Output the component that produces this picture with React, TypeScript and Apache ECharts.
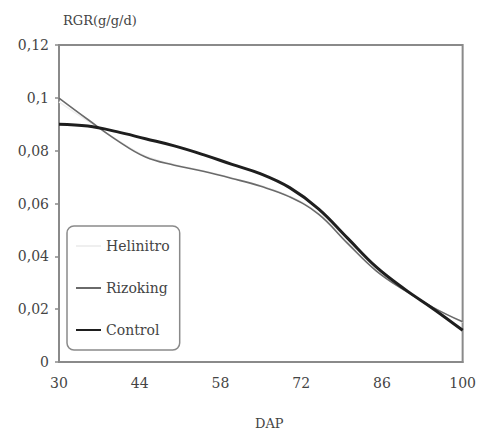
import React, { useEffect, useRef } from "react";
import * as echarts from "echarts";

const days = [30, 35, 40, 45, 50, 55, 60, 65, 70, 75, 80, 85, 90, 95, 100];
const helinitro = [0.0985, 0.0912, 0.0842, 0.0780, 0.0748, 0.0724, 0.0697, 0.0668, 0.0628, 0.0565, 0.0455, 0.0350, 0.0272, 0.0206, 0.0150];
const rizoking = [0.0999, 0.0918, 0.0840, 0.0776, 0.0745, 0.0722, 0.0695, 0.0665, 0.0625, 0.0560, 0.0450, 0.0345, 0.0270, 0.0205, 0.0152];
const control = [0.0900, 0.0893, 0.0872, 0.0845, 0.0818, 0.0785, 0.0748, 0.0712, 0.0660, 0.0580, 0.0470, 0.0360, 0.0275, 0.0200, 0.0120];
const xTicks = [30, 44, 58, 72, 86, 100];

const FONT = "'DejaVu Serif', 'Liberation Serif', serif";

export default function App() {
  const ref = useRef<HTMLDivElement>(null);
  useEffect(() => {
    if (!ref.current) return;
    const chart = echarts.init(ref.current, null, { renderer: "svg" });
    const pair = (ys: number[]) => days.map((d, i) => [d, ys[i]]);
    chart.setOption({
      animation: false,
      backgroundColor: "#fff",
      grid: {
        left: 59,
        right: 16,
        top: 45,
        bottom: 70,
        show: true,
        borderColor: "#8a8a8a",
        borderWidth: 2,
        backgroundColor: "transparent",
      },
      title: [
        {
          text: "RGR(g/g/d)",
          left: 58,
          top: 9,
          textStyle: { fontFamily: FONT, fontSize: 13, fontWeight: "normal", color: "#444" },
        },
        {
          text: "DAP",
          left: 250,
          top: 412,
          textStyle: { fontFamily: FONT, fontSize: 13, fontWeight: "normal", color: "#444" },
        },
      ],
      legend: {
        orient: "vertical",
        left: 67,
        top: 226,
        itemGap: 28,
        itemWidth: 25,
        itemHeight: 14,
        padding: [13, 10, 13, 8],
        borderColor: "#8a8a8a",
        borderWidth: 1.5,
        borderRadius: 7,
        backgroundColor: "#fff",
        itemStyle: { opacity: 0, borderWidth: 0 },
        textStyle: { fontFamily: FONT, fontSize: 14, color: "#444" },
        data: ["Helinitro", "Rizoking", "Control"],
      },
      xAxis: {
        type: "value",
        min: 30,
        max: 100,
        axisLine: { show: true, lineStyle: { color: "#8a8a8a", width: 2 } },
        axisTick: { show: false },
        splitLine: { show: false },
        axisLabel: {
          customValues: xTicks,
          fontFamily: FONT,
          fontSize: 14,
          color: "#444",
          margin: 14,
        },
      },
      yAxis: {
        type: "value",
        min: 0,
        max: 0.12,
        interval: 0.02,
        axisLine: { show: true, lineStyle: { color: "#8a8a8a", width: 2 } },
        axisTick: { show: true, length: 4, lineStyle: { color: "#8a8a8a", width: 1.5 } },
        splitLine: { show: false },
        axisLabel: {
          fontFamily: FONT,
          fontSize: 14,
          color: "#444",
          margin: 10,
          formatter: (v: number) => String(Math.round(v * 100) / 100).replace(".", ","),
        },
      },
      series: [
        {
          name: "Helinitro",
          type: "line",
          data: pair(helinitro),
          smooth: 0.4,
          symbol: "none",
          lineStyle: { color: "#efefef", width: 1.5 },
          itemStyle: { color: "#efefef" },
        },
        {
          name: "Rizoking",
          type: "line",
          data: pair(rizoking),
          smooth: 0.4,
          symbol: "none",
          lineStyle: { color: "#6a6a6a", width: 1.6 },
          itemStyle: { color: "#6a6a6a" },
        },
        {
          name: "Control",
          type: "line",
          data: pair(control),
          smooth: 0.4,
          symbol: "none",
          lineStyle: { color: "#1e1e1e", width: 3 },
          itemStyle: { color: "#1e1e1e" },
        },
      ],
    });
    return () => chart.dispose();
  }, []);
  return <div ref={ref} style={{ width: 479, height: 432, position: "absolute", left: 0, top: 0 }} />;
}
